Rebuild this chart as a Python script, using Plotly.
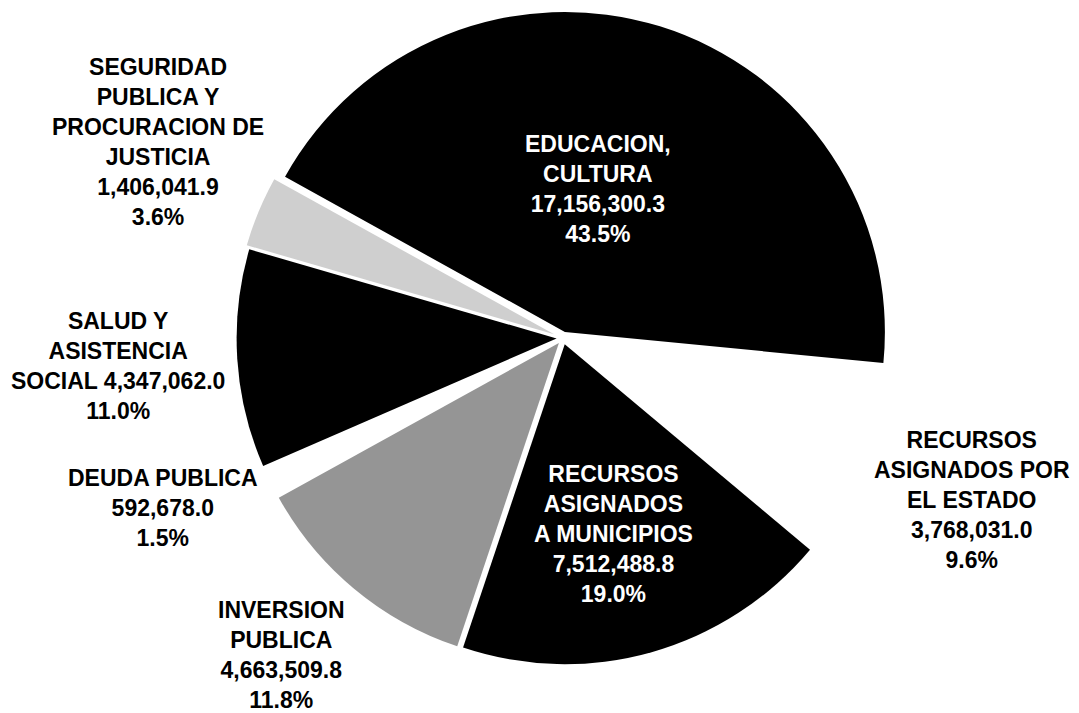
import plotly.graph_objects as go

# ---- data ----
names = [
    "EDUCACION,<br>CULTURA",
    "RECURSOS<br>ASIGNADOS POR<br>EL ESTADO",
    "RECURSOS<br>ASIGNADOS<br>A MUNICIPIOS",
    "INVERSION<br>PUBLICA",
    "DEUDA PUBLICA",
    "SALUD Y<br>ASISTENCIA<br>SOCIAL",
    "SEGURIDAD<br>PUBLICA Y<br>PROCURACION DE<br>JUSTICIA",
]
values = [17156300.3, 3768031.0, 7512488.8, 4663509.8, 592678.0, 4347062.0, 1406041.9]
value_labels = ["17,156,300.3", "3,768,031.0", "7,512,488.8", "4,663,509.8",
                "592,678.0", "4,347,062.0", "1,406,041.9"]
pct_labels = ["43.5%", "9.6%", "19.0%", "11.8%", "1.5%", "11.0%", "3.6%"]

# ---- style ----
colors = ["#000000", "#ffffff", "#000000", "#959595", "#ffffff", "#000000", "#cfcfcf"]
pulls = [0.02, 0.0, 0.02, 0.02, 0.0, 0.02, 0.03]
value_sep = ["<br>", "<br>", "<br>", "<br>", "<br>", " ", "<br>"]
# label centres in page pixels
label_pos = [(598, 189), (972, 500), (613, 534), (281, 655), (163, 508), (118, 366), (158, 142)]
label_color = ["white", "black", "white", "black", "black", "black", "black"]

PAGE_W, PAGE_H = 1079, 713
OFF = 8  # default body margin of the html page
W, H = PAGE_W - OFF, PAGE_H - OFF
cx, cy, R = 563 - OFF, 338 - OFF, 320
maxpull = max(pulls)
half = R * (1 + maxpull)

def clamp(v):
    return min(1.0, max(0.0, v))

fig = go.Figure(go.Pie(
    values=values,
    labels=[n.replace("<br>", " ") for n in names],
    sort=False,
    direction="clockwise",
    rotation=-61,
    pull=pulls,
    marker=dict(colors=colors, line=dict(width=0)),
    textinfo="none",
    hoverinfo="label+value+percent",
    showlegend=False,
    domain=dict(x=[clamp((cx - half) / W), clamp((cx + half) / W)],
                y=[clamp((H - cy - half) / H), clamp((H - cy + half) / H)]),
))

for i in range(len(names)):
    text = names[i] + value_sep[i] + value_labels[i] + "<br>" + pct_labels[i]
    x, y = label_pos[i]
    fig.add_annotation(
        x=(x - OFF) / W, y=1 - (y - OFF) / H, xref="paper", yref="paper",
        xanchor="center", yanchor="middle", showarrow=False,
        text=text, align="center",
        font=dict(family="Liberation Sans, Arial, sans-serif", size=23,
                  color=label_color[i], weight="bold"),
    )

fig.update_layout(
    width=W, height=H,
    margin=dict(l=0, r=0, t=0, b=0),
    paper_bgcolor="white", plot_bgcolor="white",
)

fig.write_html("out.html")
